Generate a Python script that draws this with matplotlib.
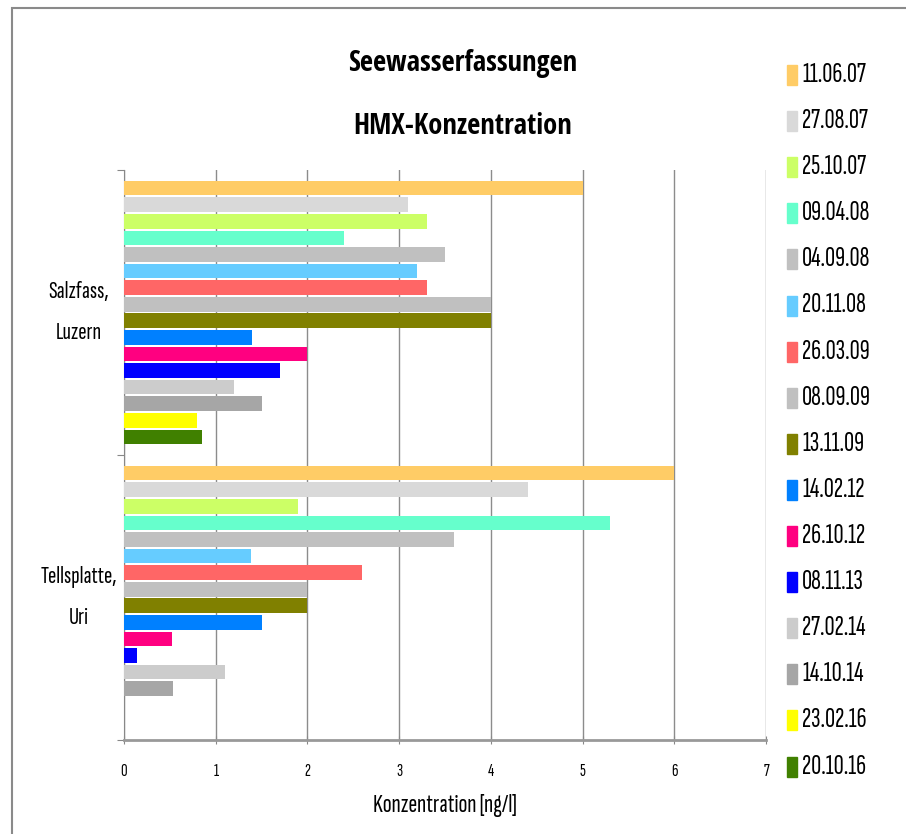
import numpy as np
import matplotlib
matplotlib.use("Agg")
import matplotlib.pyplot as plt
from matplotlib.patches import Rectangle

plt.rcParams['font.family'] = ['Sofia Sans Extra Condensed', 'Saira ExtraCondensed', 'DejaVu Sans']
TITLE_FONT = ['Open Sans Condensed', 'Barlow Condensed', 'DejaVu Sans']

# categories (top to bottom in the chart)
stations = ['Salzfass,\nLuzern', 'Tellsplatte,\nUri']

# sampling dates = series
dates = ['11.06.07', '27.08.07', '25.10.07', '09.04.08', '04.09.08', '20.11.08',
         '26.03.09', '08.09.09', '13.11.09', '14.02.12', '26.10.12', '08.11.13',
         '27.02.14', '14.10.14', '23.02.16', '20.10.16']

colors = ['#FFCC66', '#D9D9D9', '#CCFF66', '#66FFCC', '#C0C0C0', '#66CCFF',
          '#FF6666', '#C0C0C0', '#808000', '#0080FF', '#FF0080', '#0000FF',
          '#CCCCCC', '#A6A6A6', '#FFFF00', '#408000']

# HMX concentration [ng/l]
salzfass = [5.0, 3.1, 3.3, 2.4, 3.5, 3.2, 3.3, 4.0, 4.0, 1.4, 2.0, 1.7,
            1.2, 1.5, 0.8, 0.85]
tellsplatte = [6.0, 4.4, 1.9, 5.3, 3.6, 1.38, 2.6, 2.0, 2.0, 1.5, 0.52, 0.14,
               1.1, 0.53, np.nan, np.nan]

W, H = 906, 834
fig = plt.figure(figsize=(W / 100, H / 100), dpi=100)
ax = fig.add_axes([124 / W, 1 - 740 / H, (766 - 124) / W, (740 - 170) / H])

# frame around the chart area (only left and top edges are visible)
fig.add_artist(Rectangle((12 / W, -1), 2, 2 - 8 / H, transform=fig.transFigure,
                         fill=False, edgecolor='#8a8a8a', linewidth=1.5))

centers = np.array([1.5, 0.5])
pitch = 0.0582
n = len(dates)
for i, (d, c) in enumerate(zip(dates, colors)):
    y = centers + (n / 2 - 0.5 - i) * pitch
    ax.barh(y, [salzfass[i], tellsplatte[i]], height=pitch * 0.88,
            color=c, zorder=3)

ax.set_xlim(0, 7)
ax.set_ylim(0, 2)
ax.set_xticks(range(0, 8))
ax.tick_params(axis='x', labelsize=13, length=6, color='#888888', pad=14,
               direction='inout')
ax.set_yticks([0, 1, 2])
ax.set_yticklabels([])
ax.tick_params(axis='y', length=5, color='#888888')

# category labels, centred left of the axis
for yc, name in zip(centers, stations):
    ax.text(-0.07, yc, name, transform=ax.get_yaxis_transform(),
            ha='center', va='center', fontsize=18, linespacing=2.15)

ax.grid(axis='x', color='#8c8c8c', linewidth=1, zorder=0)
for s in ['top', 'right']:
    ax.spines[s].set_visible(False)
ax.spines['left'].set_color('#888888')
ax.spines['bottom'].set_color('#999999')
ax.spines['bottom'].set_linewidth(2)

ax.set_xlabel('Konzentration [ng/l]', fontsize=19, labelpad=11)

fig.text(463 / W, 1 - 64 / H, 'Seewasserfassungen', ha='center', va='center',
         fontsize=20.5, fontweight='bold', family=TITLE_FONT)
fig.text(463 / W, 1 - 126 / H, 'HMX-Konzentration', ha='center', va='center',
         fontsize=20.5, fontweight='bold', family=TITLE_FONT)

# legend on the right
for i, (d, c) in enumerate(zip(dates, colors)):
    yc = 75 + i * 46.1
    fig.add_artist(Rectangle((787 / W, 1 - (yc + 10) / H), 10 / W, 20 / H,
                             transform=fig.transFigure, color=c))
    fig.text(802 / W, 1 - yc / H, d, ha='left', va='center', fontsize=20)

fig.savefig('out.png', dpi=100)
